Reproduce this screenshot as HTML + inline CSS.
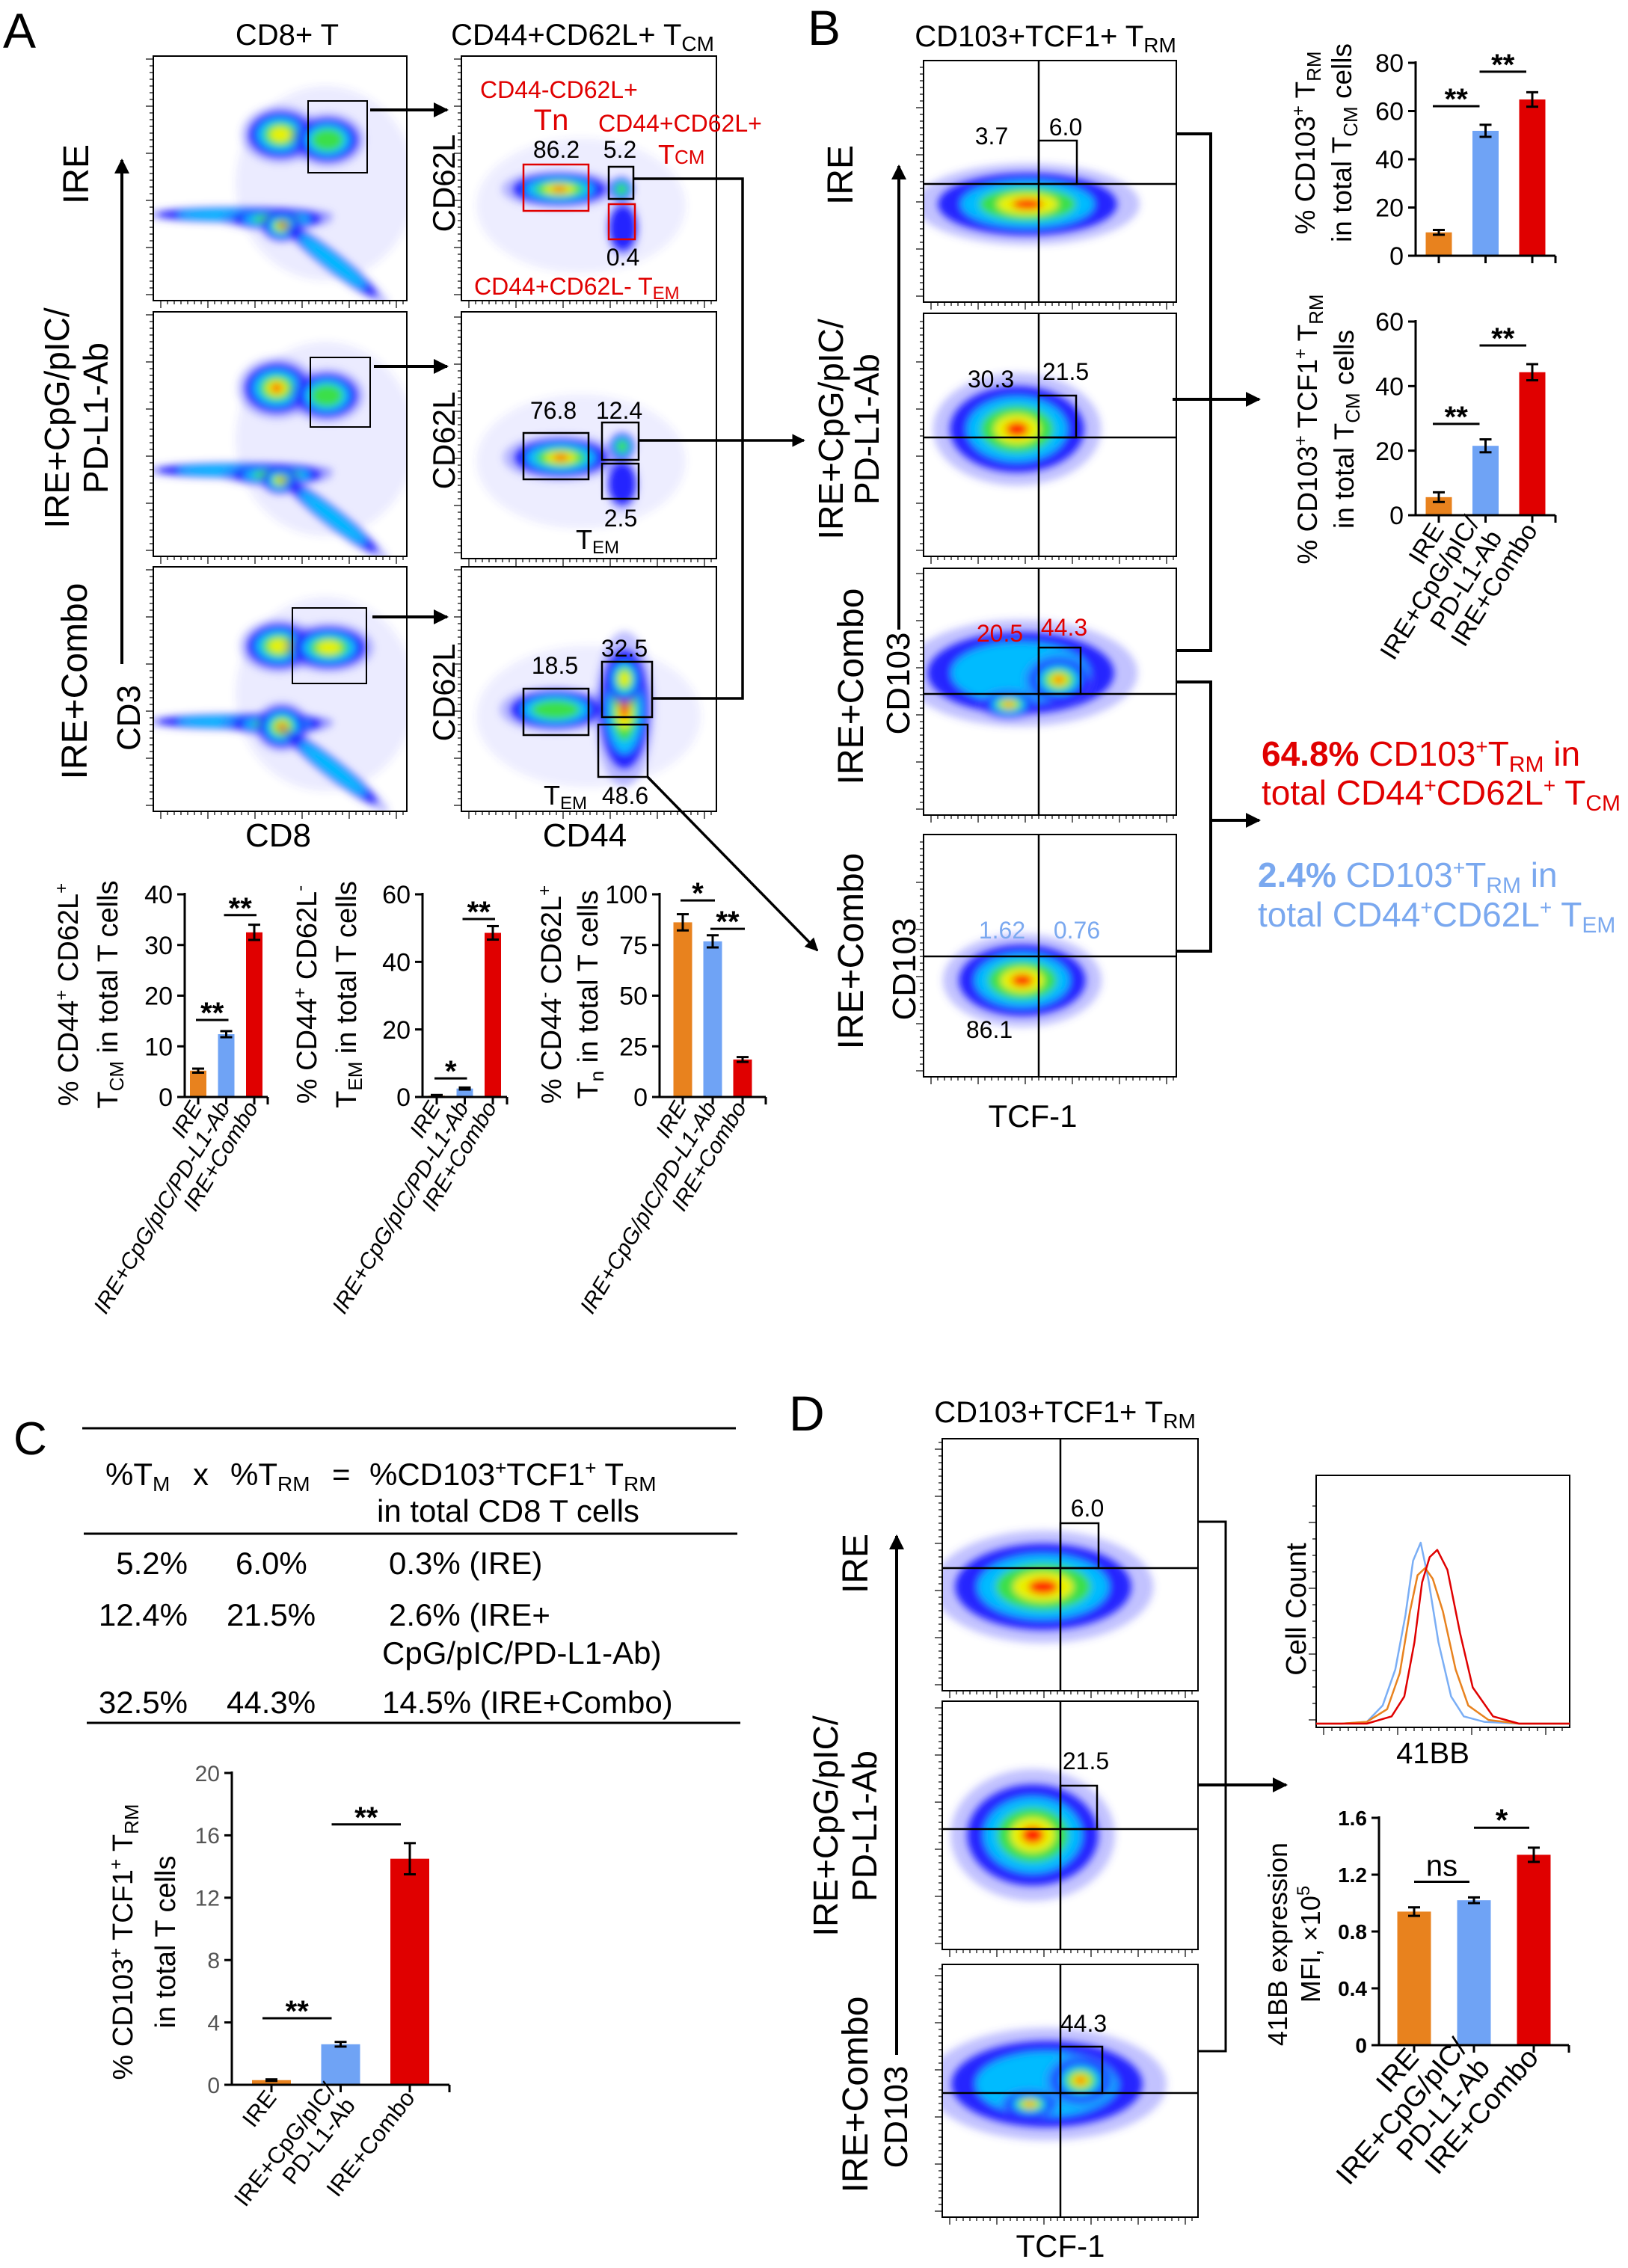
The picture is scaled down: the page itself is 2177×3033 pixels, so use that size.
<!DOCTYPE html>
<html><head><meta charset="utf-8"><title>T cell memory subsets figure</title>
<style>
html,body{margin:0;padding:0;background:#fff;}
svg{display:block;font-family:"Liberation Sans",Arial,sans-serif;}
.nar{font-family:"Liberation Sans Narrow","Liberation Sans",sans-serif;}
</style></head>
<body>
<svg id="fig" xmlns="http://www.w3.org/2000/svg" width="2177" height="3033" viewBox="0 0 2177 3033">
<defs>
<filter id="blur" x="-30%" y="-30%" width="160%" height="160%"><feGaussianBlur stdDeviation="5"/></filter>
<marker id="ah" viewBox="0 0 10 10" refX="9" refY="5" markerWidth="5" markerHeight="5" orient="auto"><path d="M0,0 L10,5 L0,10 z" fill="#000"/></marker>
</defs>
<rect x="0" y="0" width="2177" height="3033" fill="#fff"/>

<!-- Panel A headers -->
<text x="4" y="64" font-size="66">A</text>
<text x="384" y="60" font-size="40" text-anchor="middle">CD8+ T</text>
<text x="779" y="60" font-size="40" text-anchor="middle">CD44+CD62L+ T<tspan font-size="28" dy="8">CM</tspan></text>

<!-- Row labels A -->
<text transform="translate(118,233) rotate(-90)" font-size="48" text-anchor="middle">IRE</text>
<text transform="translate(92,559) rotate(-90)" font-size="46" text-anchor="middle"><tspan x="0" dy="0">IRE+CpG/pIC/</tspan><tspan x="0" dy="52">PD-L1-Ab</tspan></text>
<text transform="translate(116,911) rotate(-90)" font-size="48" text-anchor="middle">IRE+Combo</text>
<text transform="translate(187,960) rotate(-90)" font-size="44" text-anchor="middle">CD3</text>
<line x1="163" y1="888" x2="163" y2="214" stroke="#000" stroke-width="4" marker-end="url(#ah)"/>
<text x="372" y="1132" font-size="44" text-anchor="middle">CD8</text>
<text x="782" y="1132" font-size="44" text-anchor="middle">CD44</text>
<text transform="translate(608,245) rotate(-90)" font-size="42" text-anchor="middle">CD62L</text>
<text transform="translate(608,589) rotate(-90)" font-size="42" text-anchor="middle">CD62L</text>
<text transform="translate(608,926) rotate(-90)" font-size="42" text-anchor="middle">CD62L</text>

<g id="flowLayer"></g>

<!-- A gates col1 -->
<g fill="none" stroke="#000" stroke-width="2">
<rect x="412" y="135" width="79" height="96"/>
<rect x="415" y="478" width="80" height="93"/>
<rect x="391" y="813" width="99" height="101"/>
</g>
<g stroke="#000" stroke-width="4">
<line x1="495" y1="147" x2="598" y2="147" marker-end="url(#ah)"/>
<line x1="500" y1="490" x2="598" y2="490" marker-end="url(#ah)"/>
<line x1="498" y1="825" x2="598" y2="825" marker-end="url(#ah)"/>
</g>

<!-- A col2 annotations -->
<g font-size="32">
<text x="642" y="131" fill="#e00000">CD44-CD62L+</text>
<text x="737" y="174" fill="#e00000" font-size="40" text-anchor="middle">Tn</text>
<text x="800" y="176" fill="#e00000">CD44+CD62L+</text>
<text x="880" y="219" fill="#e00000" font-size="36">T<tspan font-size="26">CM</tspan></text>
<text x="744" y="211" text-anchor="middle">86.2</text>
<text x="829" y="211" text-anchor="middle">5.2</text>
<rect x="700" y="220" width="87" height="62" fill="none" stroke="#e00000" stroke-width="2.5"/>
<rect x="814" y="223" width="33" height="43" fill="none" stroke="#000" stroke-width="2.5"/>
<rect x="814" y="273" width="35" height="47" fill="none" stroke="#e00000" stroke-width="2.5"/>
<text x="833" y="355" text-anchor="middle">0.4</text>
<text x="634" y="394" fill="#e00000">CD44+CD62L- T<tspan font-size="24" dy="6">EM</tspan></text>
<text x="740" y="560" text-anchor="middle">76.8</text>
<text x="828" y="560" text-anchor="middle">12.4</text>
<rect x="700" y="579" width="87" height="62" fill="none" stroke="#000" stroke-width="2.5"/>
<rect x="805" y="565" width="49" height="50" fill="none" stroke="#000" stroke-width="2.5"/>
<rect x="805" y="620" width="49" height="47" fill="none" stroke="#000" stroke-width="2.5"/>
<text x="830" y="704" text-anchor="middle">2.5</text>
<text x="770" y="734" font-size="36">T<tspan font-size="24" dy="6">EM</tspan></text>
<text x="742" y="901" text-anchor="middle">18.5</text>
<text x="835" y="878" text-anchor="middle">32.5</text>
<rect x="700" y="921" width="87" height="62" fill="none" stroke="#000" stroke-width="2.5"/>
<rect x="805" y="885" width="67" height="74" fill="none" stroke="#000" stroke-width="2.5"/>
<rect x="800" y="969" width="66" height="70" fill="none" stroke="#000" stroke-width="2.5"/>
<text x="727" y="1076" font-size="36">T<tspan font-size="24" dy="6">EM</tspan></text>
<text x="836" y="1075" text-anchor="middle">48.6</text>
</g>
<g stroke="#000" stroke-width="3.5" fill="none">
<polyline points="847,239 993,239 993,934 872,934"/>
<line x1="854" y1="589" x2="1075" y2="589" marker-end="url(#ah)"/>
<line x1="866" y1="1039" x2="1093" y2="1271" marker-end="url(#ah)"/>
</g>

<!-- A bar chart y labels -->
<g font-size="38" text-anchor="middle">
<text transform="translate(104,1330) rotate(-90)">% CD44<tspan font-size="24" dy="-14">+</tspan><tspan dy="14"> CD62L</tspan><tspan font-size="24" dy="-14">+</tspan></text>
<text transform="translate(157,1330) rotate(-90)">T<tspan font-size="26" dy="8">CM</tspan><tspan dy="-8"> in total T cells</tspan></text>
<text transform="translate(423,1330) rotate(-90)">% CD44<tspan font-size="24" dy="-14">+</tspan><tspan dy="14"> CD62L</tspan><tspan font-size="24" dy="-14">-</tspan></text>
<text transform="translate(476,1330) rotate(-90)">T<tspan font-size="26" dy="8">EM</tspan><tspan dy="-8"> in total T cells</tspan></text>
<text transform="translate(750,1330) rotate(-90)">% CD44<tspan font-size="24" dy="-14">-</tspan><tspan dy="14"> CD62L</tspan><tspan font-size="24" dy="-14">+</tspan></text>
<text transform="translate(799,1330) rotate(-90)">T<tspan font-size="26" dy="8">n</tspan><tspan dy="-8"> in total T cells</tspan></text>
</g>

<!-- Panel B -->
<text x="1080" y="60" font-size="66">B</text>
<text x="1398" y="62" font-size="40" text-anchor="middle">CD103+TCF1+ T<tspan font-size="28" dy="8">RM</tspan></text>
<text transform="translate(1140,234) rotate(-90)" font-size="48" text-anchor="middle">IRE</text>
<text transform="translate(1127,574) rotate(-90)" font-size="46" text-anchor="middle"><tspan x="0" dy="0">IRE+CpG/pIC/</tspan><tspan x="0" dy="48">PD-L1-Ab</tspan></text>
<text transform="translate(1154,918) rotate(-90)" font-size="48" text-anchor="middle">IRE+Combo</text>
<text transform="translate(1216,914) rotate(-90)" font-size="44" text-anchor="middle">CD103</text>
<text transform="translate(1154,1272) rotate(-90)" font-size="48" text-anchor="middle">IRE+Combo</text>
<text transform="translate(1224,1296) rotate(-90)" font-size="44" text-anchor="middle">CD103</text>
<line x1="1202" y1="842" x2="1202" y2="222" stroke="#000" stroke-width="4" marker-end="url(#ah)"/>
<text x="1381" y="1507" font-size="42" text-anchor="middle">TCF-1</text>
<g font-size="32">
<text x="1326" y="193" text-anchor="middle">3.7</text>
<text x="1425" y="181" text-anchor="middle">6.0</text>
<text x="1325" y="518" text-anchor="middle">30.3</text>
<text x="1425" y="508" text-anchor="middle">21.5</text>
<text x="1337" y="858" text-anchor="middle" fill="#e00000">20.5</text>
<text x="1423" y="850" text-anchor="middle" fill="#e00000">44.3</text>
<text x="1340" y="1255" text-anchor="middle" fill="#7aa8ef">1.62</text>
<text x="1440" y="1255" text-anchor="middle" fill="#7aa8ef">0.76</text>
<text x="1323" y="1388" text-anchor="middle">86.1</text>
</g>
<g stroke="#000" stroke-width="4" fill="none">
<polyline points="1573,179 1619,179 1619,870 1573,870"/>
<line x1="1568" y1="534" x2="1684" y2="534" marker-end="url(#ah)"/>
<polyline points="1573,912 1619,912 1619,1272 1573,1272"/>
<line x1="1619" y1="1097" x2="1684" y2="1097" marker-end="url(#ah)"/>
</g>
<g font-size="37" text-anchor="middle">
<text transform="translate(1758,191) rotate(-90)">% CD103<tspan font-size="24" dy="-14">+</tspan><tspan dy="14"> T</tspan><tspan font-size="26" dy="8">RM</tspan></text>
<text transform="translate(1807,191) rotate(-90)">in total T<tspan font-size="26" dy="8">CM</tspan><tspan dy="-8"> cells</tspan></text>
<text transform="translate(1761,574) rotate(-90)">% CD103<tspan font-size="24" dy="-14">+</tspan><tspan dy="14"> TCF1</tspan><tspan font-size="24" dy="-14">+</tspan><tspan dy="14"> T</tspan><tspan font-size="26" dy="8">RM</tspan></text>
<text transform="translate(1810,574) rotate(-90)">in total T<tspan font-size="26" dy="8">CM</tspan><tspan dy="-8"> cells</tspan></text>
</g>
<text x="1687" y="1024" font-size="46" fill="#e00000"><tspan font-weight="bold">64.8%</tspan> CD103<tspan font-size="28" dy="-16">+</tspan><tspan dy="16">T</tspan><tspan font-size="30" dy="8">RM</tspan><tspan dy="-8"> in</tspan></text>
<text x="1687" y="1076" font-size="46" fill="#e00000">total CD44<tspan font-size="28" dy="-16">+</tspan><tspan dy="16">CD62L</tspan><tspan font-size="28" dy="-16">+</tspan><tspan dy="16"> T</tspan><tspan font-size="30" dy="8">CM</tspan></text>
<text x="1682" y="1186" font-size="46" fill="#7aa8ef"><tspan font-weight="bold">2.4%</tspan> CD103<tspan font-size="28" dy="-16">+</tspan><tspan dy="16">T</tspan><tspan font-size="30" dy="8">RM</tspan><tspan dy="-8"> in</tspan></text>
<text x="1682" y="1239" font-size="46" fill="#7aa8ef">total CD44<tspan font-size="28" dy="-16">+</tspan><tspan dy="16">CD62L</tspan><tspan font-size="28" dy="-16">+</tspan><tspan dy="16"> T</tspan><tspan font-size="30" dy="8">EM</tspan></text>

<!-- Panel C -->
<text x="18" y="1945" font-size="62">C</text>
<g>
<line x1="110" y1="1910" x2="984" y2="1910" stroke="#000" stroke-width="3"/>
<line x1="112" y1="2051" x2="986" y2="2051" stroke="#000" stroke-width="3"/>
<line x1="116" y1="2304" x2="990" y2="2304" stroke="#000" stroke-width="3"/>
<g font-size="42">
<text x="141" y="1986">%T<tspan font-size="28" dy="8">M</tspan></text>
<text x="258" y="1986">x</text>
<text x="308" y="1986">%T<tspan font-size="28" dy="8">RM</tspan></text>
<text x="444" y="1986">=</text>
<text x="494" y="1986">%CD103<tspan font-size="26" dy="-14">+</tspan><tspan dy="14">TCF1</tspan><tspan font-size="26" dy="-14">+</tspan><tspan dy="14"> T</tspan><tspan font-size="28" dy="8">RM</tspan></text>
<text x="504" y="2035">in total CD8 T cells</text>
<text x="251" y="2105" text-anchor="end">5.2%</text>
<text x="315" y="2105">6.0%</text>
<text x="520" y="2105">0.3% (IRE)</text>
<text x="251" y="2174" text-anchor="end">12.4%</text>
<text x="303" y="2174">21.5%</text>
<text x="520" y="2174">2.6% (IRE+</text>
<text x="511" y="2225">CpG/pIC/PD-L1-Ab)</text>
<text x="251" y="2291" text-anchor="end">32.5%</text>
<text x="303" y="2291">44.3%</text>
<text x="511" y="2291">14.5% (IRE+Combo)</text>
</g></g>
<g font-size="38" text-anchor="middle">
<text transform="translate(177,2597) rotate(-90)">% CD103<tspan font-size="24" dy="-14">+</tspan><tspan dy="14"> TCF1</tspan><tspan font-size="24" dy="-14">+</tspan><tspan dy="14"> T</tspan><tspan font-size="26" dy="8">RM</tspan></text>
<text transform="translate(234,2597) rotate(-90)">in total T cells</text>
</g>

<!-- Panel D -->
<text x="1055" y="1913" font-size="66">D</text>
<text x="1424" y="1902" font-size="40" text-anchor="middle">CD103+TCF1+ T<tspan font-size="28" dy="8">RM</tspan></text>
<text transform="translate(1160,2091) rotate(-90)" font-size="48" text-anchor="middle">IRE</text>
<text transform="translate(1120,2442) rotate(-90)" font-size="46" text-anchor="middle"><tspan x="0" dy="0">IRE+CpG/pIC/</tspan><tspan x="0" dy="52">PD-L1-Ab</tspan></text>
<text transform="translate(1160,2801) rotate(-90)" font-size="48" text-anchor="middle">IRE+Combo</text>
<text transform="translate(1213,2831) rotate(-90)" font-size="44" text-anchor="middle">CD103</text>
<line x1="1199" y1="2748" x2="1199" y2="2054" stroke="#000" stroke-width="4" marker-end="url(#ah)"/>
<text x="1418" y="3018" font-size="42" text-anchor="middle">TCF-1</text>
<g font-size="32" text-anchor="middle">
<text x="1454" y="2028">6.0</text>
<text x="1452" y="2366">21.5</text>
<text x="1449" y="2717">44.3</text>
</g>
<g stroke="#000" stroke-width="3" fill="none">
<polyline points="1602,2035 1639,2035 1639,2743 1602,2743"/>
<line x1="1602" y1="2387" x2="1720" y2="2387" stroke-width="4" marker-end="url(#ah)"/>
</g>
<rect x="1760" y="1973" width="339" height="337" fill="none" stroke="#000" stroke-width="2"/>
<text transform="translate(1746,2152) rotate(-90)" font-size="38" text-anchor="middle">Cell Count</text>
<text x="1916" y="2358" font-size="40" text-anchor="middle">41BB</text>
<g id="histLayer"></g>
<g font-size="36" text-anchor="middle">
<text transform="translate(1721,2600) rotate(-90)">41BB expression</text>
<text transform="translate(1765,2600) rotate(-90)">MFI, ×10<tspan font-size="24" dy="-14">5</tspan></text>
</g>

<g id="barLayer"></g>
</svg>

<script>
// ---------- chart data ----------
const catsA = ['IRE', 'IRE+CpG/pIC/PD-L1-Ab', 'IRE+Combo'];
const catsB = [['IRE'], ['IRE+CpG/pIC/', 'PD-L1-Ab'], ['IRE+Combo']];
const tcmVals = [5.2, 12.4, 32.5];
const tcmErr = [0.4, 0.6, 1.5];
const tcmTicks = [0, 10, 20, 30, 40];
const temVals = [0.4, 2.5, 48.6];
const temErr = [0.2, 0.3, 2.0];
const temTicks = [0, 20, 40, 60];
const tnVals = [86.2, 76.8, 18.5];
const tnErr = [4.0, 3.0, 1.2];
const tnTicks = [0, 25, 50, 75, 100];
const bTrmVals = [9.7, 51.8, 64.8];
const bTrmErr = [1.0, 2.5, 3.0];
const bTrmTicks = [0, 20, 40, 60, 80];
const bTcfVals = [5.6, 21.5, 44.3];
const bTcfErr = [1.5, 2.0, 2.5];
const bTcfTicks = [0, 20, 40, 60];
const cVals = [0.3, 2.6, 14.5];
const cErr = [0.05, 0.15, 1.0];
const cTicks = [0, 4, 8, 12, 16, 20];
const dVals = [0.94, 1.02, 1.34];
const dErr = [0.03, 0.02, 0.05];
const dTicks = [0, 0.4, 0.8, 1.2, 1.6];
const dTickLabels = ['0', '0.4', '0.8', '1.2', '1.6'];
const barColors = ['#e8821e', '#6fa3f5', '#e00000'];
// histogram data (41BB units 0-100, relative counts)
const histBins = [0, 10, 20, 28, 33, 37, 40, 43, 46, 50, 55, 60, 68, 80, 100];
const histBlue = [0, 0, 1, 10, 30, 60, 90, 100, 80, 45, 15, 4, 1, 0, 0];
const histOrange = [0, 0, 1, 8, 28, 62, 82, 86, 80, 62, 30, 10, 2, 0, 0];
const histRed = [0, 0, 0, 4, 15, 45, 78, 92, 96, 85, 50, 20, 4, 0, 0];

const NS = 'http://www.w3.org/2000/svg';
function mk(tag, attrs, parent) {
  const e = document.createElementNS(NS, tag);
  for (const k in attrs) e.setAttribute(k, attrs[k]);
  parent.appendChild(e);
  return e;
}

// ---------- flow plots (decorative density blobs) ----------
const flowLayer = document.getElementById('flowLayer');
const plots = [
  {x:205,y:75,w:339,h:327,quad:null,blobs:[[230,170,120,130,0,0.11],[110,212,105,9,0,2],[165,218,60,12,0,3],[172,227,24,18,0,5],[240,275,75,11,38,2],[170,105,42,30,0,4],[233,112,40,28,0,3]]},
  {x:205,y:417,w:339,h:327,quad:null,blobs:[[230,170,120,130,0,0.11],[110,212,105,9,0,2],[165,218,60,12,0,3],[170,225,22,16,0,4],[240,275,75,11,38,2],[165,102,42,32,0,5],[232,112,40,28,0,3]]},
  {x:205,y:758,w:339,h:327,quad:null,blobs:[[230,170,120,130,0,0.11],[110,207,105,9,0,2],[165,210,60,12,0,3],[172,214,30,26,0,5],[240,270,75,11,38,2],[168,106,42,28,0,4],[235,108,48,26,0,4]]},
  {x:617,y:75,w:341,h:327,quad:null,blobs:[[160,200,140,90,0,0.1],[131,178,62,20,0,5],[214,178,14,14,0,3],[216,230,18,30,0,1]]},
  {x:617,y:417,w:341,h:330,quad:null,blobs:[[160,200,140,90,0,0.1],[133,195,62,24,0,5],[215,180,15,16,0,3],[215,230,18,28,0,1]]},
  {x:617,y:758,w:341,h:327,quad:null,blobs:[[170,200,150,95,0,0.1],[126,191,60,24,0,3],[218,190,32,80,0,5],[218,150,22,30,0,4]]},
  {x:1235,y:81,w:338,h:323,quad:[154,165],blobs:[[139,192,120,42,0,5]]},
  {x:1235,y:419,w:338,h:325,quad:[154,166],blobs:[[125,155,90,58,0,5]]},
  {x:1235,y:760,w:338,h:330,quad:[154,168],blobs:[[130,140,125,55,0,2],[114,182,32,16,0,5],[181,149,38,27,0,5]]},
  {x:1235,y:1116,w:338,h:324,quad:[154,163],blobs:[[132,195,85,48,0,5]]},
  {x:1260,y:1924,w:342,h:337,quad:[158,173],blobs:[[135,198,118,58,0,5]]},
  {x:1260,y:2275,w:342,h:332,quad:[158,171],blobs:[[121,179,88,68,0,5]]},
  {x:1260,y:2627,w:342,h:338,quad:[158,172],blobs:[[140,160,128,58,0,2],[117,187,32,16,0,5],[185,155,38,28,0,5]]}
];
const layers = [['#1a1aff',1.0,0.95],['#00c4ff',0.74,0.95],['#3ee03e',0.54,0.95],['#f2f200',0.34,0.95],['#ff1a00',0.17,1]];
plots.forEach((p, pi) => {
  const g = mk('g', {}, flowLayer);
  
  
  const cid = 'clip' + pi;
  const cp = mk('clipPath', {id: cid}, g);
  mk('rect', {x:p.x, y:p.y, width:p.w, height:p.h}, cp);
  const fill = mk('g', {'clip-path':'url(#' + cid + ')', filter:'url(#blur)'}, g);
  p.blobs.forEach(b => {
    const [cx, cy, rx, ry, rot, lv] = b;
    const tr = 'rotate(' + rot + ' ' + (p.x + cx) + ' ' + (p.y + cy) + ')';
    if (lv < 1) {
      mk('ellipse', {cx:p.x+cx, cy:p.y+cy, rx:rx, ry:ry, fill:'#4a4aff', opacity:lv, transform:tr}, fill);
      return;
    }
    mk('ellipse', {cx:p.x+cx, cy:p.y+cy, rx:rx*1.25, ry:ry*1.3, fill:'#5050ff', opacity:0.35, transform:tr}, fill);
    for (let i = 0; i < lv; i++) {
      const L = layers[i];
      mk('ellipse', {cx:p.x+cx, cy:p.y+cy, rx:rx*L[1], ry:ry*L[1], fill:L[0], opacity:L[2], transform:tr}, fill);
    }
  });
  const box = mk('rect', {x:p.x, y:p.y, width:p.w, height:p.h, fill:'none', stroke:'#000', 'stroke-width':2}, g);
  
  
  for (let t = 0; t * 9 < p.h - 10; t++) {
    const major = t % 7 === 0;
    mk('line', {x1:p.x - (major ? 10 : 5), y1:p.y + p.h - 8 - t*9, x2:p.x, y2:p.y + p.h - 8 - t*9, stroke:'#000', 'stroke-width':1.2}, g);
  }
  for (let t = 0; t * 9 < p.w - 10; t++) {
    const major = t % 7 === 0;
    mk('line', {x1:p.x + 10 + t*9, y1:p.y + p.h, x2:p.x + 10 + t*9, y2:p.y + p.h + (major ? 10 : 5), stroke:'#000', 'stroke-width':1.2}, g);
  }
  if (p.quad) {
    const v = mk('line', {x1:p.x + p.quad[0], y1:p.y, x2:p.x + p.quad[0], y2:p.y + p.h, stroke:'#000', 'stroke-width':2.5}, g);
    
    
    const h = mk('line', {x1:p.x, y1:p.y + p.quad[1], x2:p.x + p.w, y2:p.y + p.quad[1], stroke:'#000', 'stroke-width':2.5}, g);
    
    
  }
});
const gates = [[1389,188,51,58],[1389,529,50,56],[1389,866,56,62],[1418,2037,51,60],[1418,2388,49,58],[1418,2737,56,62]];
gates.forEach(q => {
  const r = mk('rect', {x:q[0], y:q[1], width:q[2], height:q[3], fill:'none', stroke:'#000', 'stroke-width':2.5}, flowLayer);
  
  
});

// ---------- histogram ----------
const histLayer = document.getElementById('histLayer');
const hx0 = 1760, hw = 339, hy0 = 2305, hh = 242;
const hxs = v => hx0 + v / 100 * hw;
const hys = v => hy0 - v / 100 * hh;
[[histBlue,'#7aaef5',-6],[histOrange,'#e8821e',0],[histRed,'#e00000',6]].forEach(s => {
  const pts = histBins.map((b, i) => hxs(b) + s[2]*(i > 2 && i < 13 ? 1 : 0) + ',' + hys(s[0][i])).join(' ');
  const pl = mk('polyline', {points:pts, fill:'none', stroke:s[1], 'stroke-width':2.5, 'stroke-linejoin':'round'}, histLayer);
  
  
});
for (let t = 0; t < 30; t++) {
  mk('line', {x1:hx0 + 10 + t*11, y1:2310, x2:hx0 + 10 + t*11, y2:2310 + (t % 9 === 0 ? 10 : 5), stroke:'#000', 'stroke-width':1.2}, histLayer);
}
for (let t = 0; t < 14; t++) {
  mk('line', {x1:hx0 - (t % 4 === 0 ? 10 : 5), y1:2300 - t*22, x2:hx0, y2:2300 - t*22, stroke:'#000', 'stroke-width':1.2}, histLayer);
}

// ---------- bar charts ----------
const barLayer = document.getElementById('barLayer');
function barChart(cfg, values, errs, ticks, tickLabels, cats, sigs) {
  const g = mk('g', {}, barLayer);
  
  
  const ys = v => cfg.y0 - v / cfg.max * (cfg.y0 - cfg.y1);
  const xs = i => cfg.ax + cfg.pad + cfg.step * i;
  values.forEach((v, i) => {
    const r = mk('rect', {x:xs(i) - cfg.bw/2, y:ys(v), width:cfg.bw, height:cfg.y0 - ys(v), fill:barColors[i]}, g);
    
    
    const e = errs[i];
    const eg = mk('g', {stroke:'#000', 'stroke-width':cfg.sw}, g);
    
    
    mk('line', {x1:xs(i), y1:ys(v + e), x2:xs(i), y2:ys(v - e)}, eg);
    mk('line', {x1:xs(i) - 8, y1:ys(v + e), x2:xs(i) + 8, y2:ys(v + e)}, eg);
    mk('line', {x1:xs(i) - 8, y1:ys(v - e), x2:xs(i) + 8, y2:ys(v - e)}, eg);
  });
  const ya = mk('line', {x1:cfg.ax, y1:cfg.y1 - 2, x2:cfg.ax, y2:cfg.y0, stroke:'#000', 'stroke-width':cfg.sw}, g);
  
  
  const xEnd = cfg.ax + cfg.pad * 2 + cfg.step * (values.length - 1);
  const xa = mk('line', {x1:cfg.ax - 10, y1:cfg.y0, x2:xEnd, y2:cfg.y0, stroke:'#000', 'stroke-width':cfg.sw}, g);
  
  
  ticks.forEach((t, i) => {
    mk('line', {x1:cfg.ax - 10, y1:ys(t), x2:cfg.ax, y2:ys(t), stroke:'#000', 'stroke-width':cfg.sw}, g);
    const tl = mk('text', {x:cfg.ax - 16, y:ys(t) + cfg.tfs*0.36, 'font-size':cfg.tfs, 'text-anchor':'end', fill:cfg.tcol || '#000', class:cfg.tcls || '', 'font-weight':cfg.tfw || 'normal'}, g);
    tl.textContent = tickLabels ? tickLabels[i] : String(t);
    
    
  });
  values.forEach((v, i) => {
    mk('line', {x1:xs(i), y1:cfg.y0, x2:xs(i), y2:cfg.y0 + 10, stroke:'#000', 'stroke-width':cfg.sw}, g);
  });
  mk('line', {x1:xEnd, y1:cfg.y0, x2:xEnd, y2:cfg.y0 + 10, stroke:'#000', 'stroke-width':cfg.sw}, g);
  cats.forEach((c, i) => {
    const lines = Array.isArray(c) ? c : [c];
    if (!lines.length) return;
    const lh = cfg.cfs * 1.05;
    const t = mk('text', {transform:'translate(' + (xs(i) + cfg.lx) + ',' + (cfg.y0 + cfg.ly) + ') rotate(' + cfg.rot + ')', 'font-size':cfg.cfs, 'text-anchor':'end', 'font-style':cfg.ital ? 'italic' : 'normal'}, g);
    
    
    lines.forEach((ln, j) => {
      const ts = mk('tspan', {x:0, dy: j === 0 ? -(lines.length - 1) * lh / 2 : lh}, t);
      ts.textContent = ln;
    });
  });
  sigs.forEach(s => {
    const [i, j, lab, yv] = s;
    const sl = mk('line', {x1:xs(i) - cfg.sigOff, y1:ys(yv), x2:xs(j) - cfg.sigOff + cfg.sigExt, y2:ys(yv), stroke:'#000', 'stroke-width':cfg.sw}, g);
    
    
    const st = mk('text', {x:(xs(i) + xs(j)) / 2 - cfg.sigOff + cfg.sigExt/2, y:ys(yv) - (lab === 'ns' ? 8 : -4), 'font-size':lab === 'ns' ? cfg.sfs * 0.95 : cfg.sfs, 'text-anchor':'middle', 'font-weight':lab === 'ns' ? 'normal' : 'bold'}, g);
    st.textContent = lab;
    
    
  });
}
const aStyle = {pad:18, step:37.5, bw:22, sw:3, tfs:34, tcls:'nar', cfs:30, rot:-59, lx:6, ly:14, ital:true, sigOff:3, sigExt:6, sfs:40};
barChart(Object.assign({}, aStyle, {name:'chart-tcm', ax:247, y0:1467, y1:1196, max:40}), tcmVals, tcmErr, tcmTicks, null, catsA, [[0,1,'**',15.2],[1,2,'**',35.9]]);
barChart(Object.assign({}, aStyle, {name:'chart-tem', ax:565, y0:1467, y1:1196, max:60, pad:19}), temVals, temErr, temTicks, null, catsA, [[0,1,'*',5.5],[1,2,'**',52.7]]);
barChart(Object.assign({}, aStyle, {name:'chart-tn', ax:882, y0:1467, y1:1196, max:100, pad:31, step:40, bw:25}), tnVals, tnErr, tnTicks, null, catsA, [[0,1,'*',97],[1,2,'**',83]]);
const bStyle = {pad:31, step:62.5, bw:35, sw:3, tfs:34, cfs:34, rot:-58, lx:8, ly:20, ital:false, sigOff:8, sigExt:0, sfs:40};
barChart(Object.assign({}, bStyle, {name:'chart-b-trm', ax:1893, y0:342, y1:84, max:80}), bTrmVals, bTrmErr, bTrmTicks, null, [[],[],[]], [[0,1,'**',62],[1,2,'**',76.3]]);
barChart(Object.assign({}, bStyle, {name:'chart-b-tcf1', ax:1893, y0:689, y1:430, max:60}), bTcfVals, bTcfErr, bTcfTicks, null, catsB, [[0,1,'**',28.3],[1,2,'**',52.6]]);
barChart({name:'chart-c', ax:310, y0:2788, y1:2371, max:20, pad:53, step:92.5, bw:52, sw:3, tfs:30, tcol:'#555', cfs:31, rot:-52, lx:8, ly:18, ital:false, sigOff:12, sigExt:0, sfs:40}, cVals, cErr, cTicks, null, catsB, [[0,1,'**',4.27],[1,2,'**',16.7]]);
barChart({name:'chart-d', ax:1844, y0:2735, y1:2431, max:1.6, pad:47, step:80, bw:45, sw:3, tfs:28, tcls:'nar', tfw:'bold', cfs:38, rot:-49, lx:8, ly:18, ital:false, sigOff:0, sigExt:-6, sfs:42}, dVals, dErr, dTicks, dTickLabels, catsB, [[0,1,'ns',1.15],[1,2,'*',1.53]]);
</script>
</body></html>
